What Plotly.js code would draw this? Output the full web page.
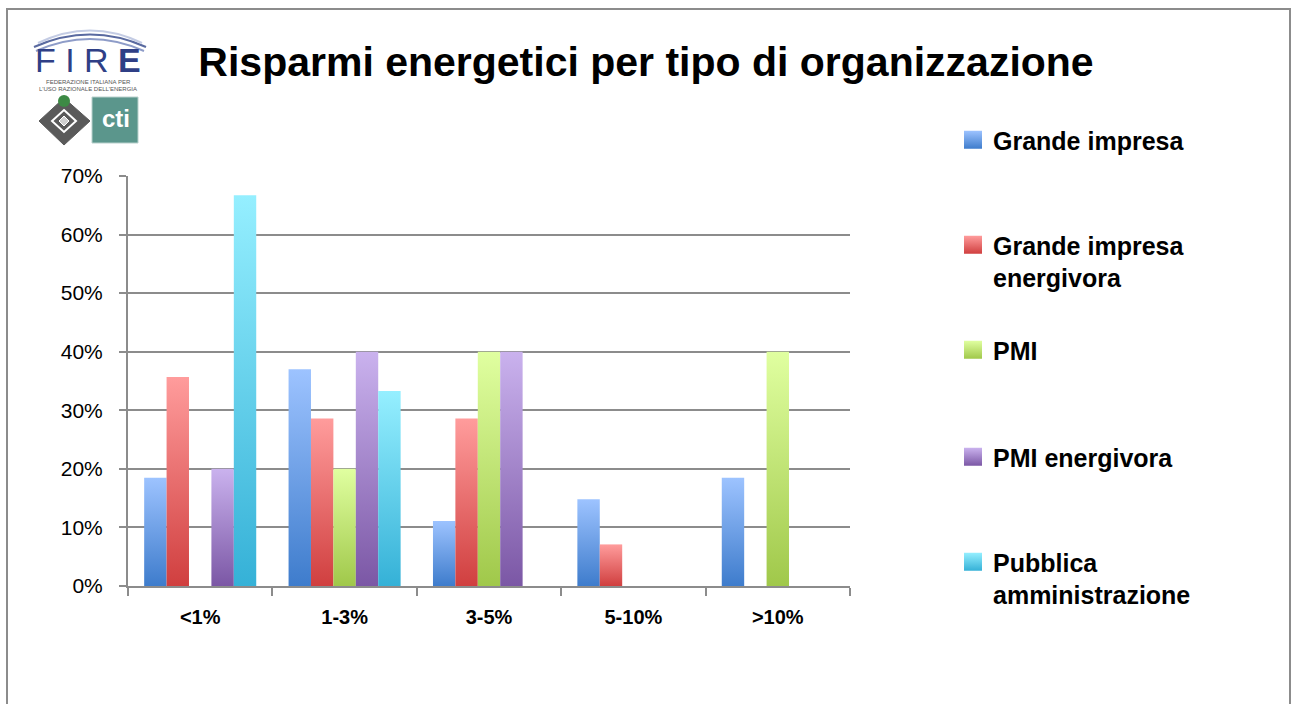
<!DOCTYPE html>
<html>
<head>
<meta charset="utf-8">
<script src="https://cdn.plot.ly/plotly-3.0.1.min.js"></script>
<style>html,body{margin:0;padding:0;background:#fff;}#chart{width:1292px;height:704px;}</style>
</head>
<body>
<div id="chart"></div>
<script>
// ---- data ----
const categories = ['<1%', '1-3%', '3-5%', '5-10%', '>10%'];
const grandeImpresa = [0.185, 0.370, 0.111, 0.148, 0.185];
const grandeImpresaEnergivora = [0.357, 0.286, 0.286, 0.071, 0];
const pmi = [0, 0.20, 0.40, 0, 0.40];
const pmiEnergivora = [0.20, 0.40, 0.40, 0, 0];
const pubblicaAmministrazione = [0.667, 0.333, 0, 0, 0];
const seriesNames = ['Grande impresa', 'Grande impresa<br>energivora', 'PMI', 'PMI energivora', 'Pubblica<br>amministrazione'];
const yTickVals = [0, 0.1, 0.2, 0.3, 0.4, 0.5, 0.6, 0.7];
const yTickText = ['0%', '10%', '20%', '30%', '40%', '50%', '60%', '70%'];
const titleText = 'Risparmi energetici per tipo di organizzazione';

// ---- styles ----
const solidColors = ['#6c9be4', '#e46a6a', '#c2e077', '#a083c6', '#62cfea'];
const gradStops = [
  ['#9dc3ff', '#3e7ccc'],
  ['#ff9c9c', '#d03f3f'],
  ['#e0ffa0', '#a0c84a'],
  ['#cab2ee', '#7b57a5'],
  ['#95efff', '#35b1d7']
];
const legendY = [133, 238, 343, 450, 555];

const L = 128, R = 850, T = 176, B = 586;
const px = x => (x - L) / (R - L);
const py = y => (B - y) / (B - T);

const allSeries = [grandeImpresa, grandeImpresaEnergivora, pmi, pmiEnergivora, pubblicaAmministrazione];
const data = allSeries.map((vals, i) => ({
  type: 'bar',
  x: categories,
  y: vals,
  name: seriesNames[i],
  marker: {color: solidColors[i], line: {width: 0}},
  legend: i === 0 ? 'legend' : 'legend' + (i + 1),
  hoverinfo: 'x+y+name'
}));

const legendFont = {family: 'Liberation Sans, Arial, sans-serif', size: 25, color: '#000', weight: 'bold'};
const mkLegend = (i) => ({
  x: px(953), y: py(legendY[i] - 16), xanchor: 'left', yanchor: 'top',
  xref: 'paper', yref: 'paper',
  font: legendFont, bgcolor: 'rgba(0,0,0,0)', borderwidth: 0,
  valign: 'top', itemclick: false, itemdoubleclick: false
});

const gray = '#8c8c8c';
const shapes = [
  // outer frame
  {type: 'rect', xref: 'paper', yref: 'paper', x0: px(7), x1: px(1290), y0: py(712), y1: py(9),
   line: {color: gray, width: 2}, fillcolor: 'rgba(0,0,0,0)', layer: 'below'},
  // logo arcs
  {type: 'path', xref: 'paper', yref: 'paper', layer: 'above',
   path: `M${px(34)},${py(47)} Q${px(90)},${py(22)} ${px(146)},${py(47)}`, line: {color: '#5a6aa0', width: 2}},
  {type: 'path', xref: 'paper', yref: 'paper', layer: 'above',
   path: `M${px(36)},${py(51)} Q${px(90)},${py(27)} ${px(144)},${py(51)}`, line: {color: '#8e9cc8', width: 2}},
  {type: 'path', xref: 'paper', yref: 'paper', layer: 'above',
   path: `M${px(38)},${py(43)} Q${px(90)},${py(18)} ${px(142)},${py(43)}`, line: {color: '#c4cce4', width: 2}},
  // diamond
  {type: 'path', xref: 'paper', yref: 'paper', layer: 'above',
   path: `M${px(64)},${py(98)} L${px(90)},${py(121)} L${px(64)},${py(145)} L${px(39)},${py(121)} Z`,
   fillcolor: '#5a5a5a', line: {color: '#5a5a5a', width: 1}},
  {type: 'path', xref: 'paper', yref: 'paper', layer: 'above',
   path: `M${px(64)},${py(110)} L${px(76)},${py(121)} L${px(64)},${py(132)} L${px(52)},${py(121)} Z`,
   fillcolor: 'rgba(0,0,0,0)', line: {color: '#ffffff', width: 2}},
  {type: 'path', xref: 'paper', yref: 'paper', layer: 'above',
   path: `M${px(64)},${py(116)} L${px(69)},${py(121)} L${px(64)},${py(126)} L${px(59)},${py(121)} Z`,
   fillcolor: '#d0d0d0', line: {color: '#ffffff', width: 1}},
  {type: 'circle', xref: 'paper', yref: 'paper', layer: 'above',
   x0: px(58), x1: px(70), y0: py(107), y1: py(95), fillcolor: '#3d8a45', line: {width: 0}},
  // cti square
  {type: 'rect', xref: 'paper', yref: 'paper', layer: 'above',
   x0: px(92), x1: px(138), y0: py(143), y1: py(97), fillcolor: '#5b968c', line: {color: '#b8d0cc', width: 1}}
];

const annotations = [
  {xref: 'paper', yref: 'paper', x: px(88), y: py(60), xanchor: 'center', yanchor: 'middle', showarrow: false,
   text: 'F I R <b>E</b>', font: {family: 'Liberation Sans, Arial, sans-serif', size: 34, color: '#2f3f86'}},
  {xref: 'paper', yref: 'paper', x: px(88), y: py(82), xanchor: 'center', yanchor: 'middle', showarrow: false,
   text: 'FEDERAZIONE ITALIANA PER', font: {family: 'Liberation Sans, Arial, sans-serif', size: 6, color: '#555'}},
  {xref: 'paper', yref: 'paper', x: px(88), y: py(89), xanchor: 'center', yanchor: 'middle', showarrow: false,
   text: "L'USO RAZIONALE DELL'ENERGIA", font: {family: 'Liberation Sans, Arial, sans-serif', size: 6, color: '#555'}},
  {xref: 'paper', yref: 'paper', x: px(116), y: py(118), xanchor: 'center', yanchor: 'middle', showarrow: false,
   text: '<b>cti</b>', font: {family: 'Liberation Sans, Arial, sans-serif', size: 24, color: '#ffffff'}}
];

const layout = {
  width: 1292, height: 704,
  margin: {l: L, r: 1292 - R, t: T, b: 704 - B, pad: 0},
  paper_bgcolor: '#ffffff', plot_bgcolor: '#ffffff',
  barmode: 'group', bargap: 0.224, bargroupgap: 0,
  title: {text: '<b>' + titleText + '</b>', xref: 'container', yref: 'container', x: 0.5, y: 1 - 62 / 704,
          xanchor: 'center', yanchor: 'middle',
          font: {family: 'Liberation Sans, Arial, sans-serif', size: 41, color: '#000'}},
  xaxis: {
    type: 'category', showgrid: false, showline: true, linecolor: gray, linewidth: 2,
    ticks: 'outside', tickson: 'boundaries', ticklen: 8, tickwidth: 2, tickcolor: gray,
    tickfont: {family: 'Liberation Sans, Arial, sans-serif', size: 20, color: '#000', weight: 'bold'},
    ticklabelstandoff: 12, zeroline: false, fixedrange: true
  },
  yaxis: {
    range: [0, 0.7], tickvals: yTickVals, ticktext: yTickText,
    showgrid: true, gridcolor: gray, gridwidth: 2, showline: true, linecolor: gray, linewidth: 2,
    ticks: 'outside', ticklen: 7, tickwidth: 2, tickcolor: gray,
    tickfont: {family: 'Liberation Sans, Arial, sans-serif', size: 21, color: '#000'},
    ticklabelstandoff: 12, zeroline: false, fixedrange: true
  },
  legend: mkLegend(0), legend2: mkLegend(1), legend3: mkLegend(2), legend4: mkLegend(3), legend5: mkLegend(4),
  shapes: shapes, annotations: annotations,
  showlegend: true
};

const gd = document.getElementById('chart');
Plotly.newPlot(gd, data, layout, {displayModeBar: false, staticPlot: false}).then(() => {
  const NS = 'http://www.w3.org/2000/svg';
  const svg = gd.querySelector('svg.main-svg');
  let defs = svg.querySelector('defs');
  if (!defs) { defs = document.createElementNS(NS, 'defs'); svg.insertBefore(defs, svg.firstChild); }
  gradStops.forEach((st, i) => {
    const lg = document.createElementNS(NS, 'linearGradient');
    lg.setAttribute('id', 'barGrad' + i);
    lg.setAttribute('x1', '0'); lg.setAttribute('y1', '0'); lg.setAttribute('x2', '0'); lg.setAttribute('y2', '1');
    [[0, st[0]], [1, st[1]]].forEach(([o, c]) => {
      const s = document.createElementNS(NS, 'stop');
      s.setAttribute('offset', o); s.setAttribute('stop-color', c);
      lg.appendChild(s);
    });
    defs.appendChild(lg);
  });
  gd.querySelectorAll('.barlayer .trace').forEach((tr, i) => {
    tr.querySelectorAll('path').forEach(p => { p.style.fill = 'url(#barGrad' + i + ')'; });
  });
  gd.querySelectorAll('.legend .traces, [class^="legend"] .traces').forEach(t => {
    const d = t.__data__ && t.__data__[0] && t.__data__[0].trace;
    if (!d) return;
    t.querySelectorAll('.legendpoints path').forEach(p => {
      p.setAttribute('d', 'M9,9H-9V-9H9Z');
      p.style.fill = 'url(#barGrad' + d.index + ')';
      p.style.stroke = 'none';
    });
  });
});
</script>
</body>
</html>
